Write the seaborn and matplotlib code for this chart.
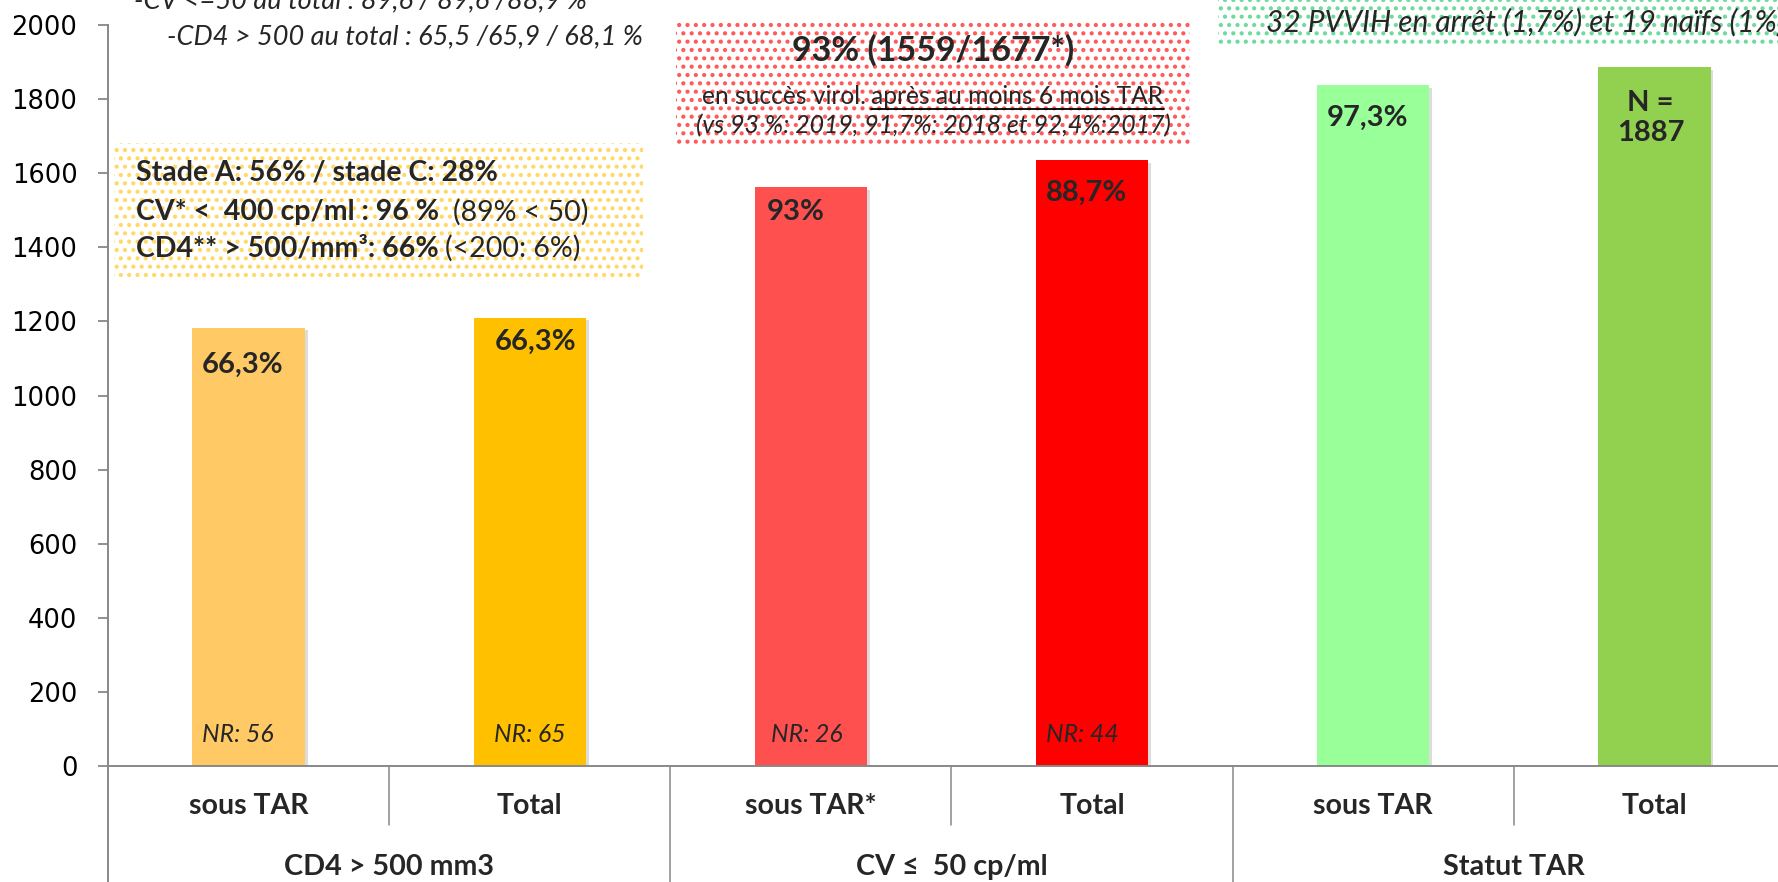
import matplotlib
matplotlib.use("Agg")
import matplotlib.pyplot as plt
import matplotlib.patheffects as pe
from matplotlib.patches import Rectangle
from matplotlib.lines import Line2D
import seaborn as sns

# data
bar_keys = ["cd4_sous", "cd4_total", "cv_sous", "cv_total", "tar_sous", "tar_total"]
sub_labels = ["sous TAR", "Total", "sous TAR*", "Total", "sous TAR", "Total"]
group_labels = ["CD4 > 500 mm3", "CV \u2264  50 cp/ml", "Statut TAR"]
counts = [1183, 1210, 1563, 1636, 1838, 1887]
pct_labels = ["66,3%", "66,3%", "93%", "88,7%", "97,3%", "N =\n1887"]
nr_labels = ["NR: 56", "NR: 65", "NR: 26", "NR: 44", "", ""]
bar_colors = ["#FFCA66", "#FFC000", "#FF5050", "#FF0000", "#99FF99", "#92D050"]
yticks = list(range(0, 2001, 200))

# label offsets from the bar top / centre, in pixels
pct_dx = [-6, 6, -15, -6, -6, -4]
pct_dy = [-37, -24, -25, -33, -33, -51]
nr_dx = [-11, 0, -4, -10, 0, 0]

W, H = 1778, 882
def fx(x):
    return x / W
def fy(y):
    return 1 - y / H

sns.set_theme(style="white")
plt.rcParams["font.family"] = ["Lato", "DejaVu Sans"]
plt.rcParams["hatch.linewidth"] = 1.8

fig = plt.figure(figsize=(W / 100, H / 100), dpi=100)
ax = fig.add_axes([fx(108), fy(766), 1687 / W, 741 / H])

sns.barplot(x=bar_keys, y=counts, hue=bar_keys, order=bar_keys, hue_order=bar_keys,
            palette=bar_colors, width=0.4, saturation=1, legend=False, linewidth=0, ax=ax)
for p in ax.patches:
    p.set_path_effects([pe.SimplePatchShadow(offset=(2, -2), shadow_rgbFace="k", alpha=0.15),
                        pe.Normal()])

ax.set_xlim(-0.5, 5.5)
ax.set_ylim(0, 2000)
ax.set_yticks(yticks)
ax.set_xticks([])
ax.set_xlabel("")
ax.set_ylabel("")
ax.tick_params(axis="y", which="both", left=True, direction="out", length=7, width=1.3,
               color="#888888", labelsize=18.5, pad=15, labelcolor="black")
for lbl in ax.get_yticklabels():
    lbl.set_fontfamily("DejaVu Sans")
for s in ["top", "right"]:
    ax.spines[s].set_visible(False)
for s in ["left", "bottom"]:
    ax.spines[s].set_color("#888888")
    ax.spines[s].set_linewidth(1.4)

# bar value labels
for i, (v, t) in enumerate(zip(counts, pct_labels)):
    ax.annotate(t, xy=(i, v), xytext=(pct_dx[i] * 0.72, pct_dy[i] * 0.72), textcoords="offset points",
                ha="center", va="center", fontsize=21, fontweight="bold", linespacing=1.2)
for i, t in enumerate(nr_labels):
    if t:
        ax.annotate(t, xy=(i, 85), xytext=(nr_dx[i] * 0.72, 0), textcoords="offset points",
                    ha="center", va="center", fontsize=17.8, fontstyle="italic")

# two-level category axis
xt = ax.get_xaxis_transform()
low = -116 / 741
ax.add_line(Line2D([-0.5, -0.5], [0, low], transform=xt, color="#888888", lw=1.4, clip_on=False))
for i in range(5):
    end = low if i % 2 == 1 else -59 / 741
    ax.add_line(Line2D([i + 0.5, i + 0.5], [0, end], transform=xt, color="#888888", lw=1.1, clip_on=False))
for i, t in enumerate(sub_labels):
    ax.text(i, -40 / 741, t, transform=xt, ha="center", va="center", fontsize=20.5, fontweight="bold")
for g, t in enumerate(group_labels):
    ax.text(2 * g + 0.5, -101 / 741, t, transform=xt, ha="center", va="center", fontsize=20.7,
            fontweight="bold")

# dotted note boxes
def dotted_box(x0, y0, x1, y1, color):
    fig.add_artist(Rectangle((fx(x0), fy(y1)), (x1 - x0) / W, (y1 - y0) / H, transform=fig.transFigure,
                             facecolor="white", edgecolor=color, hatch="..", lw=0, zorder=1))

dotted_box(676, 21, 1190, 147, "#FF5A5A")
dotted_box(114, 143, 643, 277, "#FFD866")
dotted_box(1218, -10, 1800, 47, "#6FDA9C")

renderer = fig.canvas.get_renderer()

def seg_line(x, y, segs, size, align="left"):
    # segs: (text, weight, style, underline, gap before in px)
    arts = [fig.text(0, 0, s[0], fontsize=size, fontweight=s[1], fontstyle=s[2], va="center",
                     ha="left", zorder=3) for s in segs]
    widths = [a.get_window_extent(renderer).width for a in arts]
    total = sum(widths) + sum(s[4] for s in segs)
    x0 = x - total / 2 if align == "center" else x
    for a, wd, s in zip(arts, widths, segs):
        x0 += s[4]
        a.set_position((fx(x0), fy(y)))
        if s[3]:
            fig.add_artist(Line2D([fx(x0), fx(x0 + wd)], [fy(y + 12)] * 2, color="black", lw=1.3, zorder=3))
        x0 += wd

# top-left notes
fig.text(fx(134), fy(8), "-CV <=50 au total : 89,6 / 89,6 /88,9 %", fontsize=19.5, fontstyle="italic",
         va="baseline", ha="left")
fig.text(fx(167), fy(44), "-CD4 > 500 au total : 65,5 /65,9 / 68,1 %", fontsize=19.5, fontstyle="italic",
         va="baseline", ha="left")

# red box
fig.text(fx(933), fy(50), "93% (1559/1677*)", fontsize=24.5, fontweight="bold", ha="center", va="center",
         zorder=3)
seg_line(933, 97, [("en succès virol.", "normal", "normal", False, 0),
                   ("après au moins 6 mois TAR", "normal", "normal", True, 5)], 17.7, align="center")
fig.text(fx(933), fy(126), "(vs 93 %: 2019, 91,7%: 2018 et 92,4%:2017)", fontsize=17.9, fontstyle="italic",
         ha="center", va="center", zorder=3)

# yellow box
fig.text(fx(136), fy(173), "Stade A: 56% / stade C: 28%", fontsize=20.5, fontweight="bold", ha="left",
         va="center", zorder=3)
seg_line(136, 212, [("CV* <  400 cp/ml : 96 %", "bold", "normal", False, 0),
                    ("(89% < 50)", "normal", "normal", False, 14)], 20.5)
seg_line(136, 248, [("CD4** > 500/mm\u00b3: 66%", "bold", "normal", False, 0),
                    ("(<200: 6%)", "normal", "normal", False, 6)], 20.5)

# green box
fig.text(fx(1266), fy(22), "32 PVVIH en arrêt (1,7%) et 19 naïfs (1%)", fontsize=21.5, fontstyle="italic",
         ha="left", va="center", zorder=3)

fig.savefig("out.png", dpi=100)
